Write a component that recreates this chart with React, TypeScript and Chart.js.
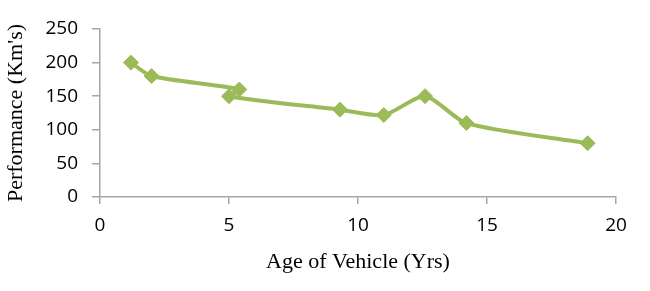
import React, { useEffect, useRef } from "react";
import { Chart, registerables } from "chart.js";

Chart.register(...registerables);

const ageYears = [1.2, 2.0, 5.4, 5.0, 9.3, 11.0, 12.6, 14.2, 18.9];
const performanceKm = [200, 180, 160, 150, 130, 122, 150, 110, 80];
const xTicks = [0, 5, 10, 15, 20];
const yTicks = [0, 50, 100, 150, 200, 250];
const xTitle = "Age of Vehicle (Yrs)";
const yTitle = "Performance (Km's)";

const GREEN = "#9bbb59";
const AXIS = "#a6a6a6";

export default function App() {
  const ref = useRef<HTMLCanvasElement | null>(null);

  useEffect(() => {
    document.body.style.margin = "0";
    const ctx = ref.current;
    if (!ctx) return;
    const chart = new Chart(ctx, {
      type: "line",
      data: {
        datasets: [
          {
            data: ageYears.map((x, i) => ({ x, y: performanceKm[i] })),
            borderColor: GREEN,
            backgroundColor: GREEN,
            borderWidth: 4,
            tension: 0.25,
            pointStyle: "rectRot",
            pointRadius: 7.5,
            pointBorderWidth: 1,
            pointBorderColor: GREEN,
            pointBackgroundColor: GREEN,
            fill: false,
          },
        ],
      },
      options: {
        responsive: false,
        animation: false,
        layout: { padding: { top: 29, right: 34, left: 0, bottom: 0 } },
        plugins: { legend: { display: false }, tooltip: { enabled: false } },
        scales: {
          x: {
            type: "linear",
            min: 0,
            max: 20,
            afterBuildTicks: (s: any) => {
              s.ticks = xTicks.map((v) => ({ value: v }));
            },
            afterFit: (s: any) => {
              s.height = 94;
            },
            grid: {
              display: true,
              drawOnChartArea: false,
              drawTicks: true,
              tickLength: 7,
              color: AXIS,
              lineWidth: 1.5,
            },
            border: { display: true, color: AXIS, width: 1.5 },
            ticks: {
              padding: 10,
              color: "#000",
              maxRotation: 0,
              font: { family: "'Open Sans', sans-serif", size: 19 },
            },
            title: {
              display: true,
              text: xTitle,
              color: "#000",
              padding: { top: 0, bottom: 16 },
              font: { family: "'Liberation Serif', serif", size: 22 },
            },
          },
          y: {
            type: "linear",
            min: 0,
            max: 250,
            afterBuildTicks: (s: any) => {
              s.ticks = yTicks.map((v) => ({ value: v }));
            },
            afterFit: (s: any) => {
              s.width = 100;
            },
            grid: {
              display: true,
              drawOnChartArea: false,
              drawTicks: true,
              tickLength: 8,
              color: AXIS,
              lineWidth: 1.5,
            },
            border: { display: true, color: AXIS, width: 1.5 },
            ticks: {
              padding: 14,
              color: "#000",
              font: { family: "'Open Sans', sans-serif", size: 19 },
            },
            title: {
              display: true,
              text: yTitle,
              color: "#000",
              padding: { top: 3, bottom: 0 },
              font: { family: "'Liberation Serif', serif", size: 22 },
            },
          },
        },
      },
    });
    return () => chart.destroy();
  }, []);

  return (
    <div style={{ position: "absolute", left: 0, top: 0, width: 650, height: 291, background: "#fff" }}>
      <canvas ref={ref} width={650} height={291} />
    </div>
  );
}
